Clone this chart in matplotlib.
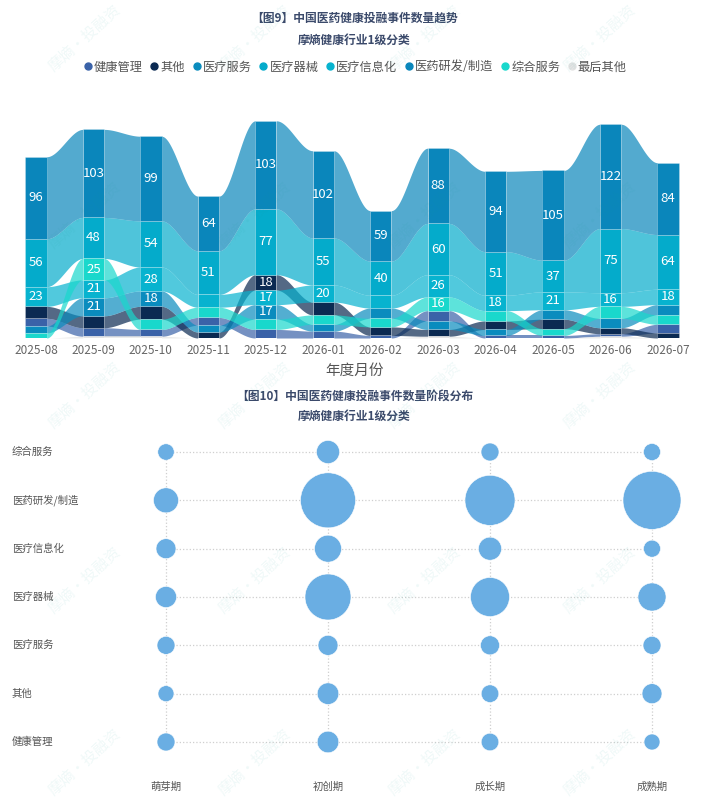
import numpy as np
import matplotlib
matplotlib.use('Agg')
import matplotlib.pyplot as plt
from matplotlib.lines import Line2D

plt.rcParams['font.family'] = ['Noto Sans CJK SC', 'DejaVu Sans']

# ---- data: 图9 monthly counts per category ----
months = ['2025-08', '2025-09', '2025-10', '2025-11', '2025-12', '2026-01',
          '2026-02', '2026-03', '2026-04', '2026-05', '2026-06', '2026-07']
series = ['健康管理', '其他', '医疗服务', '医疗器械', '医疗信息化',
          '医药研发/制造', '综合服务', '最后其他']
health_mgmt = [9, 10, 8, 9, 10, 8, 3, 12, 3, 3, 3, 10]
other = [14, 14, 15, 7, 18, 15, 10, 8, 10, 11, 7, 6]
med_service = [8, 21, 18, 8, 17, 8, 12, 10, 7, 11, 11, 12]
med_device = [56, 48, 54, 51, 77, 55, 40, 60, 51, 37, 75, 64]
med_it = [23, 21, 28, 15, 17, 20, 15, 26, 18, 21, 16, 18]
pharma = [96, 103, 99, 64, 103, 102, 59, 88, 94, 105, 122, 84]
general = [6, 25, 12, 12, 12, 11, 10, 16, 12, 8, 14, 11]
last_other = [0, 2, 2, 0, 0, 0, 0, 2, 0, 0, 2, 0]
colors = ['#3A62A8', '#0B2A52', '#0A8CBE', '#04ABCB', '#07B3CF',
          '#0A86BB', '#19D8CC', '#E3E3E3']

# ---- data: 图10 stage distribution ----
stages = ['萌芽期', '初创期', '成长期', '成熟期']
rows = ['健康管理', '其他', '医疗服务', '医疗器械', '医疗信息化', '医药研发/制造', '综合服务']
stage_health = [48, 69, 46, 38]
stage_other = [38, 69, 46, 59]
stage_service = [48, 59, 54, 48]
stage_device = [66, 314, 226, 117]
stage_it = [59, 108, 79, 43]
stage_pharma = [93, 450, 372, 500]
stage_general = [40, 79, 48, 43]

W, H = 709, 802
fig = plt.figure(figsize=(W / 100, H / 100), dpi=100)


def rect(left, top, right, bottom):
    return [left / W, 1 - bottom / H, (right - left) / W, (bottom - top) / H]


title_c = '#3B4A6B'
fig.text(0.5, 1 - 18 / H, '【图9】中国医药健康投融事件数量趋势', ha='center', va='center',
         fontsize=8.5, fontweight='bold', color=title_c)
fig.text(0.5, 1 - 40 / H, '摩熵健康行业1级分类', ha='center', va='center',
         fontsize=8.5, fontweight='bold', color=title_c)

handles = [Line2D([], [], marker='o', ls='', color=c, markersize=5) for c in colors]
fig.legend(handles, series, loc='center', bbox_to_anchor=(0.5, 1 - 67 / H), ncol=8,
           frameon=False, fontsize=8.8, handletextpad=0.05, columnspacing=0.5,
           handlelength=0.9, labelcolor='#555555')

# ---- ribbon chart ----
ax1 = fig.add_axes(rect(0, 90, W, 338))
step = 57.45
ax1.set_xlim(-36 / step, 11 + 41 / step)
ax1.set_ylim(0, (338 - 90) / 0.855)
for sp in ax1.spines.values():
    sp.set_visible(False)
ax1.set_yticks([])
ax1.set_xticks(range(len(months)))
ax1.set_xticklabels(months, fontsize=8.5, color='#666666')
ax1.tick_params(axis='x', length=0, pad=4)

vals = np.array([health_mgmt, other, med_service, med_device, med_it, pharma, general, last_other])
n, m = vals.shape
lo = np.zeros((n, m))
hi = np.zeros((n, m))
for i in range(m):
    order = sorted(range(n), key=lambda s: (vals[s, i], s))
    base = 0
    for s in order:
        lo[s, i] = base
        hi[s, i] = base + vals[s, i]
        base += vals[s, i]

bw = 0.37
t = np.linspace(0, 1, 80)
ease = t * t * (3 - 2 * t)
for s in range(n):
    for i in range(m - 1):
        if vals[s, i] == 0 and vals[s, i + 1] == 0:
            continue
        xa, xb = i + bw / 2, i + 1 - bw / 2
        x = xa + (xb - xa) * t
        y_lo = lo[s, i] + (lo[s, i + 1] - lo[s, i]) * ease
        y_hi = hi[s, i] + (hi[s, i + 1] - hi[s, i]) * ease
        ax1.fill_between(x, y_lo, y_hi, color=colors[s], alpha=0.7, lw=0, zorder=2)

for s in range(n):
    ax1.bar(range(m), vals[s], bottom=lo[s], width=bw, color=colors[s],
            edgecolor=(1, 1, 1, 0.3), linewidth=0.5, zorder=3)
    for i in range(m):
        if vals[s, i] >= 16:
            ax1.text(i, lo[s, i] + vals[s, i] / 2, str(vals[s, i]), ha='center', va='center',
                     color='white', fontsize=9.5, zorder=4)

fig.text(0.5, 1 - 371 / H, '年度月份', ha='center', va='center', fontsize=10.5, color='#555555')

# ---- bubble chart ----
fig.text(0.5, 1 - 396 / H, '【图10】中国医药健康投融事件数量阶段分布', ha='center', va='center',
         fontsize=8.5, fontweight='bold', color=title_c)
fig.text(0.5, 1 - 416 / H, '摩熵健康行业1级分类', ha='center', va='center',
         fontsize=8.5, fontweight='bold', color=title_c)

ax2 = fig.add_axes(rect(0, 430, W, H))
cstep, rstep = 162.0, 48.33
ax2.set_xlim(-166 / cstep, 3 + (W - 652) / cstep)
ax2.set_ylim(-(H - 742) / rstep, 6 + (452 - 430) / rstep)
ax2.axis('off')

stage_vals = np.array([stage_health, stage_other, stage_service, stage_device,
                       stage_it, stage_pharma, stage_general])
ax2.hlines(range(len(rows)), 0, len(stages) - 1, colors='#cfcfcf', linestyles=':', lw=0.9, zorder=1)
ax2.vlines(range(len(stages)), 0, len(rows) - 1, colors='#cfcfcf', linestyles=':', lw=0.9, zorder=1)
for r in range(len(rows)):
    ax2.scatter(range(len(stages)), [r] * len(stages), s=stage_vals[r] * 3.49,
                color='#6AAEE3', edgecolor='white', linewidth=0.4, zorder=3, clip_on=False)
    ax2.text(12 / W, r, rows[r], transform=ax2.get_yaxis_transform(), ha='left', va='center',
             fontsize=7.5, color='#555555')
for j, st in enumerate(stages):
    ax2.text(j, -(787 - 742) / rstep, st, ha='center', va='center', fontsize=7.5, color='#555555')

# ---- watermark ----
for wy in [38, 215, 395, 580, 762]:
    for wx in [85, 255, 425, 600]:
        fig.text(wx / W, 1 - wy / H, '摩熵·投融资', ha='center', va='center', rotation=42,
                 fontsize=11, color='#1aa39a', alpha=0.07, zorder=10)

fig.savefig('out.png', dpi=100, facecolor='white')
